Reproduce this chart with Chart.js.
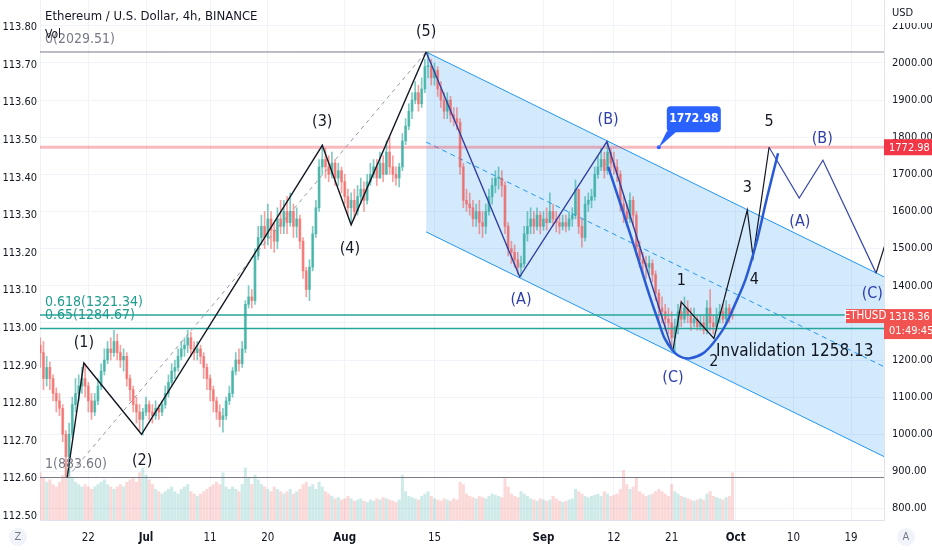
<!DOCTYPE html>
<html lang="en">
<head>
<meta charset="UTF-8">
<title>Ethereum / U.S. Dollar, 4h</title>
<script src="https://cdn.jsdelivr.net/npm/chart.js@4.4.6/dist/chart.umd.min.js"></script>
<style>
  html, body { margin: 0; padding: 0; background: #fff; }
  #wrap { position: relative; width: 932px; height: 550px; }
</style>
</head>
<body>
<div id="wrap"><canvas id="ethChart"></canvas></div>
<script>
const FONT = '"Liberation Sans Narrow", "DejaVu Sans Condensed", Roboto, sans-serif';

// time axis in days since 1 Jun 2022, candles every 12h
const firstCandleDay = 13.5;
const candleStep = 0.5;
const firstOpen = 1240;

const closes = [
  1220,1150,1180,1150,1110,1090,1070,1000,940,1000,
  1080,1110,1130,1150,1130,1090,1060,1090,1130,1170,
  1200,1230,1220,1250,1220,1200,1210,1150,1120,1080,
  1060,1040,1060,1080,1060,1050,1070,1060,1080,1110,
  1140,1170,1180,1210,1230,1240,1260,1230,1220,1230,
  1210,1180,1150,1120,1090,1060,1040,1050,1090,1110,
  1170,1200,1190,1230,1350,1370,1360,1480,1530,1560,
  1530,1580,1550,1520,1580,1560,1600,1570,1600,1560,
  1580,1520,1440,1390,1450,1540,1610,1720,1740,1720,
  1700,1730,1690,1710,1680,1640,1610,1630,1600,1640,
  1660,1630,1680,1700,1720,1690,1730,1700,1760,1720,
  1700,1690,1720,1790,1830,1870,1900,1920,1890,1930,
  1990,1990,1960,1980,1930,1900,1870,1900,1860,1850,
  1840,1720,1630,1620,1610,1580,1600,1570,1560,1600,
  1640,1670,1690,1690,1670,1560,1500,1490,1470,1450,
  1460,1540,1560,1580,1560,1590,1560,1580,1570,1600,
  1580,1570,1560,1570,1560,1580,1590,1660,1560,1530,
  1620,1630,1640,1700,1720,1740,1710,1760,1730,1720,
  1700,1620,1600,1580,1630,1590,1500,1470,1460,1450,
  1460,1430,1380,1340,1330,1310,1300,1260,1290,1330,
  1310,1340,1320,1300,1310,1290,1300,1280,1340,1300,
  1290,1320,1330,1310,1340,1320,1318.36
];
const highs = [
  1260,1250,1210,1195,1160,1125,1110,1080,1010,1030,
  1100,1150,1160,1180,1190,1140,1110,1110,1150,1190,
  1230,1250,1260,1280,1270,1240,1230,1220,1160,1130,
  1100,1080,1070,1100,1090,1080,1090,1080,1090,1130,
  1160,1190,1200,1230,1250,1260,1280,1275,1250,1250,
  1240,1220,1190,1160,1130,1100,1080,1070,1100,1130,
  1180,1220,1230,1250,1360,1400,1390,1500,1560,1590,
  1600,1620,1600,1570,1610,1630,1630,1640,1650,1620,
  1610,1590,1530,1450,1470,1560,1630,1740,1780,1770,
  1750,1760,1740,1730,1720,1700,1660,1650,1660,1670,
  1690,1680,1700,1730,1740,1740,1760,1750,1790,1800,
  1750,1720,1730,1810,1850,1890,1920,1950,1940,1960,
  2010,2030,2010,2000,1990,1950,1920,1920,1910,1880,
  1880,1850,1730,1660,1650,1630,1620,1630,1600,1620,
  1660,1690,1710,1720,1710,1680,1570,1520,1510,1490,
  1480,1560,1600,1610,1600,1610,1600,1600,1610,1650,
  1620,1600,1590,1590,1590,1600,1610,1685,1660,1580,
  1640,1650,1660,1720,1750,1770,1760,1788,1770,1760,
  1740,1710,1640,1620,1650,1640,1600,1520,1490,1480,
  1480,1470,1440,1390,1370,1350,1340,1330,1310,1350,
  1360,1370,1360,1340,1340,1320,1320,1320,1360,1390,
  1320,1340,1350,1350,1360,1350,1340
];
const lows = [
  1180,1120,1130,1120,1090,1060,1050,980,884,895,
  990,1060,1090,1110,1100,1060,1040,1050,1080,1120,
  1160,1190,1200,1210,1200,1180,1170,1130,1090,1060,
  1030,1010,998,1050,1040,1030,1040,1040,1050,1070,
  1100,1130,1150,1170,1200,1210,1220,1210,1200,1200,
  1190,1150,1120,1090,1060,1040,1020,1006,1040,1080,
  1100,1160,1170,1180,1220,1340,1340,1350,1470,1510,
  1500,1510,1500,1490,1500,1540,1540,1540,1560,1530,
  1530,1500,1420,1370,1360,1440,1530,1600,1700,1690,
  1680,1690,1670,1670,1650,1620,1590,1565,1580,1590,
  1620,1600,1620,1670,1690,1670,1690,1680,1700,1700,
  1680,1670,1666,1710,1780,1820,1850,1890,1870,1880,
  1920,1960,1940,1940,1910,1880,1850,1850,1840,1830,
  1820,1700,1610,1600,1590,1560,1560,1540,1530,1540,
  1590,1620,1650,1660,1640,1540,1480,1460,1450,1430,
  1424,1450,1520,1540,1540,1550,1540,1550,1550,1570,
  1560,1545,1540,1550,1545,1550,1560,1580,1540,1504,
  1520,1600,1610,1630,1690,1710,1690,1700,1710,1700,
  1680,1600,1570,1560,1570,1560,1480,1450,1430,1420,
  1430,1410,1360,1310,1300,1280,1270,1230,1220,1270,
  1290,1300,1300,1280,1290,1280,1280,1270,1270,1280,
  1270,1280,1300,1300,1300,1300,1310
];
const volumes = [
  200,180,160,170,150,140,160,190,250,220,180,160,150,140,150,140,
  130,140,150,160,170,150,140,130,140,150,140,160,170,180,160,200,220,
  190,170,150,130,120,110,120,130,140,120,110,130,140,
  150,120,110,100,110,120,130,140,150,160,150,200,140,130,140,130,120,150,220,
  180,150,190,170,150,140,130,120,140,130,120,110,120,130,110,120,130,150,160,140,150,130,160,140,120,110,
  100,90,95,85,90,100,90,80,85,90,80,75,85,80,90,85,95,90,85,80,
  75,85,190,120,100,95,90,85,100,110,120,100,90,85,80,90,85,80,90,85,
  160,150,110,100,95,90,100,95,90,100,110,105,100,95,175,140,110,100,95,120,
  110,100,90,85,80,90,85,80,85,100,90,80,75,80,85,90,130,120,110,100,
  95,100,105,110,100,120,110,100,105,110,130,210,150,130,140,180,120,110,100,105,
  110,120,130,120,110,100,150,120,110,100,95,90,85,80,85,90,85,110,120,100,
  95,90,85,95,100,200
];

// axis ticks
const tickDays = [21, 30, 40, 49, 61, 75, 92, 103, 112, 122, 131, 140];
const tickLabels = ['22', 'Jul', '11', '20', 'Aug', '15', 'Sep', '12', '21', 'Oct', '10', '19'];
const monthTicks = ['Jul', 'Aug', 'Sep', 'Oct'];
const priceTicks = [800, 900, 1000, 1100, 1200, 1300, 1400, 1500, 1600, 1700, 1800, 1900, 2000, 2100];
const leftTicks = [112.5, 112.6, 112.7, 112.8, 112.9, 113.0, 113.1, 113.2, 113.3, 113.4, 113.5, 113.6, 113.7, 113.8];

// price levels
const fibRatios = ['0', '0.618', '0.65', '1'];
const fibPrices = [2029.51, 1321.34, 1284.67, 883.60];
const targetLevel = 1772.98;
const lastPrice = 1318.36;
const countdown = '01:49:45';
const invalidation = 1258.13;

// elliott waves (day, price)
const impulseDays = [17.7, 20.3, 29.3, 57.5, 62.0, 73.7];
const impulsePrices = [883.6, 1192, 1000, 1778, 1564, 2029.51];
const abcDays = [73.7, 88.3, 101.9, 112.1];
const abcPrices = [2029.51, 1424, 1788, 1227];
const newWaveDays = [112.2, 113.5, 118.6, 123.8, 124.7, 127.2];
const newWavePrices = [1227, 1356, 1258.13, 1604, 1477, 1772.98];
const projDays = [127.2, 131.9, 135.6, 143.9];
const projPrices = [1772.98, 1636, 1738, 1434];
const projTailDays = [143.9, 146.5];
const projTailPrices = [1434, 1578];
const cupDays = [102.1, 106.0, 109.7, 112.1, 114.9, 118.5, 122.2, 124.7, 126.9, 128.6];
const cupPrices = [1720, 1515, 1316, 1227, 1205, 1246, 1362, 1483, 1639, 1757];

// descending channel
const channelDays = [73.7, 145.13];
const channelTop = [2029.51, 1424];
const channelMid = [1787, 1182];
const channelBottom = [1545, 940];

// labels
const blackLabels = ['(1)', '(2)', '(3)', '(4)', '(5)', '1', '2', '3', '4', '5'];
const blackLabelDays = [20.3, 29.4, 57.5, 61.8, 73.7, 113.5, 118.6, 123.8, 124.9, 127.2];
const blackLabelPrices = [1246, 928, 1841, 1499, 2083, 1413, 1195, 1663, 1415, 1841];
const blueLabels = ['(A)', '(B)', '(C)', '(A)', '(B)', '(C)'];
const blueLabelDays = [88.5, 102.1, 112.2, 132.0, 135.5, 143.3];
const blueLabelPrices = [1362, 1846, 1152, 1572, 1795, 1378];
const calloutDay = 110.0;

const xMin = 13.46, xMax = 145.13;

const candleDays = closes.map((c, i) => firstCandleDay + i * candleStep);
const opens = closes.map((c, i) => i === 0 ? firstOpen : closes[i - 1]);
const isUp = closes.map((c, i) => c >= opens[i]);

const UP = 'rgba(38,166,154,0.6)', DOWN = 'rgba(239,83,80,0.55)';
const UP_VOL = 'rgba(38,166,154,0.22)', DOWN_VOL = 'rgba(239,83,80,0.22)';

function pts(days, prices) {
  return days.map((d, i) => ({ x: d, y: prices[i] }));
}

function lineSet(days, prices, color, width, order, extra) {
  return Object.assign({
    type: 'line', data: pts(days, prices), borderColor: color, borderWidth: width,
    pointRadius: 0, fill: false, tension: 0, yAxisID: 'y', order: order
  }, extra || {});
}

function fixAxis(w, h) {
  return function (s) {
    if (w) s.width = w;
    if (h) s.height = h;
    s.paddingTop = 0; s.paddingBottom = 0; s.paddingLeft = 0; s.paddingRight = 0;
  };
}

const datasets = [
  {
    type: 'bar', label: 'Vol', yAxisID: 'yv', order: 20, grouped: false, barThickness: 2.4,
    data: candleDays.map((d, i) => ({ x: d, y: volumes[i] })),
    backgroundColor: candleDays.map((d, i) => isUp[i] ? UP_VOL : DOWN_VOL)
  },
  lineSet(channelDays, channelTop, '#2196f3', 1, 15, { fill: '+1', backgroundColor: 'rgba(33,150,243,0.2)' }),
  lineSet(channelDays, channelBottom, '#2196f3', 1, 15),
  lineSet(channelDays, channelMid, '#2196f3', 1, 14, { borderDash: [5, 4] }),
  lineSet([xMin, xMax], [targetLevel, targetLevel], 'rgba(242,54,69,0.35)', 3, 13),
  {
    type: 'bar', label: 'wicks', yAxisID: 'y', order: 10, grouped: false, barThickness: 1,
    data: candleDays.map((d, i) => ({ x: d, y: [lows[i], highs[i]] })),
    backgroundColor: candleDays.map((d, i) => isUp[i] ? UP : DOWN)
  },
  {
    type: 'bar', label: 'bodies', yAxisID: 'y', order: 9, grouped: false, barThickness: 2.2, minBarLength: 1,
    data: candleDays.map((d, i) => ({ x: d, y: [opens[i], closes[i]] })),
    backgroundColor: candleDays.map((d, i) => isUp[i] ? UP : DOWN)
  },
  lineSet([xMin, xMax], [fibPrices[0], fibPrices[0]], '#787b86', 1, 5),
  lineSet([xMin, xMax], [fibPrices[1], fibPrices[1]], '#26a69a', 1.5, 5),
  lineSet([xMin, xMax], [fibPrices[2], fibPrices[2]], '#26a69a', 1.5, 5),
  lineSet([xMin, xMax], [fibPrices[3], fibPrices[3]], '#787b86', 1, 5),
  lineSet([impulseDays[0], impulseDays[5]], [impulsePrices[0], impulsePrices[5]], '#9598a1', 1, 4, { borderDash: [4, 4] }),
  lineSet(impulseDays, impulsePrices, '#131722', 1.4, 2),
  lineSet(abcDays, abcPrices, '#303f9f', 1.4, 2),
  lineSet(newWaveDays, newWavePrices, '#131722', 1.2, 2),
  lineSet(projDays, projPrices, '#3949ab', 1.2, 2),
  lineSet(projTailDays, projTailPrices, '#131722', 1.2, 2),
  lineSet(cupDays, cupPrices, '#2a5bd7', 2.5, 1, { tension: 0.45 })
];

function tickLabelFor(v) {
  const i = tickDays.indexOf(v);
  return i < 0 ? '' : tickLabels[i];
}

const overlay = {
  id: 'overlay',
  afterDatasetsDraw(chart) {
    const { ctx, chartArea: a } = chart;
    const x = chart.scales.x, y = chart.scales.y;
    ctx.save();
    ctx.beginPath();
    ctx.rect(a.left, a.top, a.right - a.left, a.bottom - a.top);
    ctx.clip();

    // wave labels
    ctx.textAlign = 'center';
    ctx.textBaseline = 'middle';
    ctx.font = '16px ' + FONT;
    ctx.fillStyle = '#131722';
    blackLabels.forEach((t, i) => ctx.fillText(t, x.getPixelForValue(blackLabelDays[i]), y.getPixelForValue(blackLabelPrices[i])));
    ctx.fillStyle = '#2f3fa8';
    blueLabels.forEach((t, i) => ctx.fillText(t, x.getPixelForValue(blueLabelDays[i]), y.getPixelForValue(blueLabelPrices[i])));

    // invalidation note next to wave 2
    ctx.textAlign = 'left';
    ctx.fillStyle = '#131722';
    ctx.font = '17px ' + FONT;
    ctx.fillText('Invalidation ' + invalidation.toFixed(2), x.getPixelForValue(newWaveDays[2]) + 2, y.getPixelForValue(invalidation) + 13);

    // fib labels
    ctx.textBaseline = 'bottom';
    ctx.font = '14px ' + FONT;
    fibPrices.forEach((p, i) => {
      ctx.fillStyle = (i === 0 || i === 3) ? '#787b86' : '#1e9c8e';
      ctx.fillText(fibRatios[i] + '(' + p.toFixed(2) + ')', a.left + 5, y.getPixelForValue(p) - 6);
    });

    // callout
    const cx = x.getPixelForValue(calloutDay), cy = y.getPixelForValue(targetLevel);
    ctx.fillStyle = '#2962ff';
    ctx.beginPath();
    ctx.moveTo(cx, cy);
    ctx.lineTo(cx + 8, cy - 16);
    ctx.lineTo(cx + 18, cy - 16);
    ctx.closePath();
    ctx.fill();
    ctx.beginPath();
    ctx.roundRect(cx + 8, cy - 41, 54, 26, 4);
    ctx.fill();
    ctx.beginPath();
    ctx.arc(cx, cy, 2, 0, Math.PI * 2);
    ctx.fill();
    ctx.fillStyle = '#fff';
    ctx.font = 'bold 12px ' + FONT;
    ctx.textAlign = 'center';
    ctx.textBaseline = 'middle';
    ctx.fillText(targetLevel.toFixed(2), cx + 35, cy - 28);

    // header
    ctx.textAlign = 'left';
    ctx.fillStyle = '#131722';
    ctx.font = '13px ' + FONT;
    ctx.fillText('Ethereum / U.S. Dollar, 4h, BINANCE', a.left + 5, 17);
    ctx.font = '12px ' + FONT;
    ctx.fillText('Vol', a.left + 5, 35);
    ctx.restore();
  },
  afterDraw(chart) {
    const { ctx, chartArea: a } = chart;
    const y = chart.scales.y;
    ctx.save();
    ctx.font = '11px ' + FONT;
    ctx.textBaseline = 'middle';

    // axis header
    ctx.fillStyle = '#fff';
    ctx.fillRect(a.right + 1, 0, 48, 23);
    ctx.fillStyle = '#131722';
    ctx.textAlign = 'left';
    ctx.fillText('USD', a.right + 8, 13);

    // target price tag
    const ty = y.getPixelForValue(targetLevel);
    ctx.fillStyle = '#f23645';
    ctx.fillRect(a.right, ty - 8, 48, 16);
    ctx.fillStyle = '#fff';
    ctx.fillText(targetLevel.toFixed(2), a.right + 5, ty + 0.5);

    // last price tag
    const ly = y.getPixelForValue(lastPrice);
    ctx.fillStyle = '#f05350';
    ctx.fillRect(a.right, ly - 7, 48, 30);
    ctx.fillRect(a.right - 38, ly - 7, 38, 14);
    ctx.fillStyle = '#fff';
    ctx.fillText(lastPrice.toFixed(2), a.right + 5, ly + 1.5);
    ctx.fillText(countdown, a.right + 5, ly + 15.5);
    ctx.textAlign = 'center';
    ctx.font = '11.5px ' + FONT;
    ctx.fillText('ETHUSD', a.right - 19, ly);

    // corner buttons
    ctx.font = '11px ' + FONT;
    [[18, 'Z'], [906, 'A']].forEach(([bx, t]) => {
      ctx.fillStyle = '#f0f3fa';
      ctx.beginPath();
      ctx.arc(bx, 537, 9, 0, Math.PI * 2);
      ctx.fill();
      ctx.fillStyle = '#787b86';
      ctx.fillText(t, bx, 537.5);
    });
    ctx.restore();
  }
};

Chart.defaults.font.family = FONT;

new Chart(document.getElementById('ethChart'), {
  type: 'bar',
  data: { datasets: datasets },
  plugins: [overlay],
  options: {
    responsive: true,
    maintainAspectRatio: false,
    animation: false,
    layout: { padding: 0 },
    plugins: { legend: { display: false }, tooltip: { enabled: false } },
    scales: {
      x: {
        type: 'linear', min: xMin, max: xMax, offset: false,
        afterBuildTicks: s => { s.ticks = tickDays.map(v => ({ value: v })); },
        afterFit: fixAxis(0, 30),
        grid: { color: '#f2f3f7', offset: false, drawTicks: false },
        border: { color: '#e0e3eb' },
        ticks: {
          autoSkip: false, maxRotation: 0, padding: 11, color: '#131722',
          callback: v => tickLabelFor(v),
          font: c => ({ family: FONT, size: 11.5, weight: (c.tick && monthTicks.includes(tickLabelFor(c.tick.value))) ? 'bold' : 'normal' })
        }
      },
      y: {
        position: 'right', min: 769.2, max: 2169.5,
        afterBuildTicks: s => { s.ticks = priceTicks.map(v => ({ value: v })); },
        afterFit: fixAxis(48, 0),
        grid: { color: '#f0f3fa', drawTicks: false },
        border: { color: '#e0e3eb' },
        ticks: { padding: 8, color: '#131722', font: { size: 11 }, callback: v => v.toFixed(2) }
      },
      yl: {
        position: 'left', min: 112.4896, max: 113.8726,
        afterBuildTicks: s => { s.ticks = leftTicks.map(v => ({ value: v })); },
        afterFit: fixAxis(40, 0),
        grid: { display: false, drawTicks: false },
        border: { color: '#eef0f4' },
        ticks: { padding: 3, color: '#131722', font: { size: 11 }, callback: v => v.toFixed(2) }
      },
      yv: { display: false, min: 0, max: 2200 }
    }
  }
});
</script>
</body>
</html>
